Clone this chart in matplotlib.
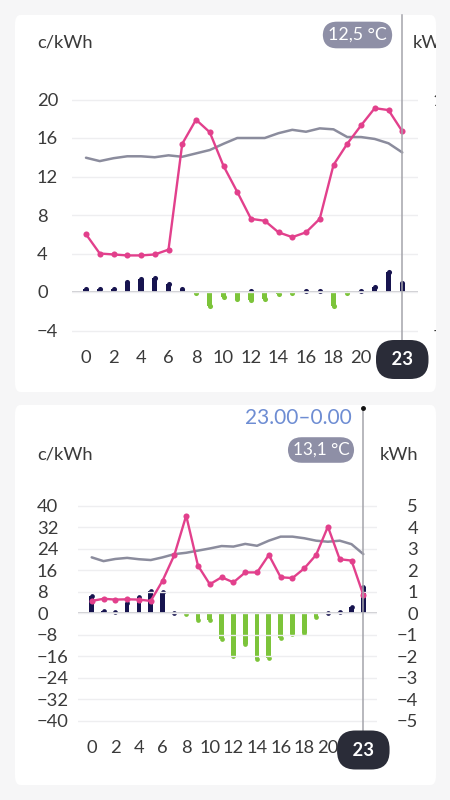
import matplotlib
matplotlib.use("Agg")
import matplotlib.pyplot as plt
from matplotlib.patches import FancyBboxPatch, Rectangle
import matplotlib.transforms as mtrans

plt.rcParams['font.family'] = ['Lato', 'DejaVu Sans']

# ---------------- data ----------------
hours = list(range(24))
xtick_hours = list(range(0, 21, 2))

# Top chart
price_top = [6.0, 4.0, 3.9, 3.8, 3.8, 3.9, 4.4, 15.4, 17.9, 16.6, 13.1, 10.4,
             7.6, 7.4, 6.2, 5.7, 6.2, 7.6, 13.2, 15.4, 17.3, 19.1, 18.9, 16.7]
temp_top = [13.95, 13.6, 13.9, 14.1, 14.1, 14.0, 14.2, 14.05, 14.4, 14.75, 15.4, 16.0,
            16.0, 16.0, 16.5, 16.85, 16.65, 17.0, 16.9, 16.1, 16.1, 15.9, 15.45, 14.5]
cons_top = [0.27, 0.27, 0.27, 0.65, 0.8, 0.85, 0.55, 0.27, 0, 0, 0, 0,
            0.05, 0, 0, 0, 0.07, 0.07, 0, 0, 0.2, 0.37, 1.15, 0.6]
prod_top = [0, 0, 0, 0, 0, 0, 0, 0, -0.1, -0.85, -0.37, -0.52,
            -0.57, -0.52, -0.25, -0.03, 0, 0, -0.87, -0.15, 0, 0, 0, 0]
left_ticks_top = [20, 16, 12, 8, 4, 0, -4]
right_ticks_top = [10, 8, 6, 4, 2, 0, -2]
temp_label_top = "12,5 °C"

# Bottom chart
price_bot = [4.6, 5.4, 5.1, 5.2, 5.1, 4.6, 12.1, 21.7, 36.3, 17.7, 10.8, 13.4,
             11.5, 15.2, 15.2, 21.7, 13.4, 13.1, 16.7, 21.7, 32.2, 20.1, 19.6, 6.8]
temp_bot = [20.8, 19.4, 20.2, 20.6, 20.1, 19.8, 20.8, 22.0, 22.5, 23.3, 24.1, 25.0,
            24.8, 25.8, 25.1, 27.0, 28.5, 28.5, 27.9, 27.0, 26.6, 27.0, 25.7, 22.0]
cons_bot = [0.93, 0.2, 0.15, 0.6, 0.88, 1.16, 1.08, 0.07, 0, 0, 0, 0,
            0, 0, 0, 0, 0, 0, 0, 0, 0.08, 0.19, 0.42, 1.35]
prod_bot = [0, 0, 0, 0, 0, 0, 0, 0, -0.02, -0.42, -0.44, -1.32,
            -2.09, -1.55, -2.25, -2.17, -1.27, -1.09, -1.01, -0.28, 0, 0, 0, 0]
left_ticks_bot = [40, 32, 24, 16, 8, 0, -8, -16, -24, -32, -40]
right_ticks_bot = [5, 4, 3, 2, 1, 0, -1, -2, -3, -4, -5]
temp_label_bot = "13,1 °C"
range_label_bot = "23.00–0.00"

# ---------------- style ----------------
W, H = 450, 800
BG = '#f6f6f7'
PINK = '#e2408c'
NAVY = '#17144f'
GREEN = '#7cc43a'
GREYLINE = '#8b8c9d'
BADGE = '#8e8fa6'
BUBBLE = '#2a2c38'
BLUE = '#6e8dd3'
TXT = '#3a3a3a'
FS = 13.2

fig = plt.figure(figsize=(W / 100, H / 100), dpi=100, facecolor=BG)


def fx(x):
    return x / W


def fy(y):
    return 1 - y / H


def card(x0, y0, x1, y1):
    p = FancyBboxPatch((fx(x0), fy(y1)), fx(x1) - fx(x0), fy(y0) - fy(y1),
                       boxstyle="round,pad=0,rounding_size=0.012",
                       transform=fig.transFigure, fc='white', ec='none', zorder=-5)
    fig.patches.append(p)


card(15, 15, 436, 392)
card(15, 405, 436, 785)


def rounded_bars(ax2, xs, vals, width, color, px_per_h, px_per_unit):
    d_px = width * px_per_h
    r = d_px / 2 / px_per_unit
    ms = d_px * 0.72
    bx, bh, cx, cy = [], [], [], []
    for h, v in zip(xs, vals):
        if v == 0:
            continue
        s = 1 if v > 0 else -1
        end = s * max(abs(v) - r, r * 0.3)
        if abs(v) > r:
            bx.append(h)
            bh.append(end)
        cx.append(h)
        cy.append(end)
    ax2.bar(bx, bh, width=width, color=color, zorder=2, linewidth=0)
    ax2.plot(cx, cy, 'o', ms=ms, color=color, mec='none', zorder=2)


def panel(rect_px, x0h, pxh, zero_px, pxu, kfac, price, temp, cons, prod, lticks, rticks,
          lx_px, rx_px, bar_w, line_top_px, bubble_y_px):
    x0, y0, x1, y1 = rect_px
    ax = fig.add_axes([fx(x0), fy(y1), fx(x1) - fx(x0), fy(y0) - fy(y1)])
    ax.set_xlim((x0 - x0h) / pxh, (x1 - x0h) / pxh)
    ylim = ((zero_px - y1) / pxu, (zero_px - y0) / pxu)
    ax.set_ylim(*ylim)
    ax.patch.set_alpha(0)
    for s in ax.spines.values():
        s.set_visible(False)
    ax.set_yticks(lticks)
    ax.set_yticklabels([f"{t}".replace('-', '\u2212') for t in lticks])
    ax.tick_params(axis='y', length=0, pad=(x0 - lx_px) * 0.72, labelsize=FS, labelcolor=TXT)
    for lab in ax.get_yticklabels():
        lab.set_ha('left')
    ax.set_xticks(xtick_hours)
    ax.tick_params(axis='x', length=0, pad=13 * 0.72, labelsize=FS, labelcolor=TXT)
    for lab in ax.get_xticklabels():
        lab.set_va('center')
    ax.grid(axis='y', color='#eeeef0', lw=1.0, zorder=0)
    ax.axhline(0, color='#c8c8ce', lw=1.3, zorder=1)

    # bars on twin (kWh) axis
    ax2 = ax.twinx()
    ax2.set_ylim(ylim[0] / kfac, ylim[1] / kfac)
    for s in ax2.spines.values():
        s.set_visible(False)
    ax2.set_yticks(rticks)
    ax2.set_yticklabels([f"{t}".replace('-', '\u2212') for t in rticks])
    ax2.tick_params(axis='y', length=0, pad=(rx_px - x1) * 0.72, labelsize=FS, labelcolor=TXT)
    for lab in ax2.get_yticklabels():
        lab.set_ha('right')
    rounded_bars(ax2, hours, cons, bar_w, NAVY, pxh, pxu * kfac)
    rounded_bars(ax2, hours, prod, bar_w, GREEN, pxh, pxu * kfac)
    ax2.set_zorder(1)
    ax.set_zorder(2)

    ax.plot(hours, temp, color=GREYLINE, lw=1.8, zorder=3, solid_capstyle='round',
            solid_joinstyle='round')
    ax.plot(hours, price, color=PINK, lw=1.7, marker='o', ms=4.4, mec='none', zorder=4)

    # cursor line at hour 23
    h_ax = y1 - y0
    ax.axvline(hours[-1], ymin=0, ymax=(y1 - line_top_px) / h_ax, color='#a4a4ab',
               lw=1.1, clip_on=False, zorder=5)
    tr = mtrans.blended_transform_factory(ax.transData, ax.transAxes)
    ax.text(hours[-1], (y1 - bubble_y_px) / h_ax, " 23 ", transform=tr, ha='center',
            va='center_baseline', color='white', fontsize=FS, fontweight='bold', zorder=10,
            clip_on=False,
            bbox=dict(boxstyle="round,pad=0.6,rounding_size=1.0", fc=BUBBLE, ec='none'))
    return ax, ax2


# top panel: hour0 at x=86, 13.75 px/h ; zero at y=292, 9.625 px/unit
ax_t, ax_t2 = panel((72, 80, 418, 345), 86.0, 13.75, 292.0, 9.625, 2.0,
                    price_top, temp_top, cons_top, prod_top, left_ticks_top, right_ticks_top,
                    37, 454, 0.37, 15, 358)

# bottom panel: hour0 at x=91.7, 11.81 px/h ; zero at y=613.3, 2.69 px/unit
ax_b, ax_b2 = panel((78, 495, 377, 735), 91.7, 11.81, 613.3, 2.69, 8.0,
                    price_bot, temp_bot, cons_bot, prod_bot, left_ticks_bot, right_ticks_bot,
                    37, 418, 0.4, 408, 748.5)

# small dot at top of the bottom cursor line
ax_b.plot([hours[-1]], [ax_b.get_ylim()[1] + (495 - 408) / 2.69], 'o', ms=2.5, color='#111111',
          clip_on=False, zorder=6)

# cover strip to clip the top chart at the card edge
fig.patches.append(Rectangle((fx(436), fy(392)), 1 - fx(436), fy(15) - fy(392),
                             transform=fig.transFigure, fc=BG, ec='none', zorder=20))

# header texts
fig.text(fx(37), fy(43), "c/kWh", ha='left', va='center', fontsize=FS, color=TXT)
fig.text(fx(413), fy(43), "kWh", ha='left', va='center', fontsize=FS, color=TXT, zorder=1)
fig.text(fx(357.5), fy(35), temp_label_top, ha='center', va='center', fontsize=12.8, color='white',
         bbox=dict(boxstyle="round,pad=0.3,rounding_size=0.8", fc=BADGE, ec='none'))

fig.text(fx(37), fy(455), "c/kWh", ha='left', va='center', fontsize=FS, color=TXT)
fig.text(fx(418), fy(455), "kWh", ha='right', va='center', fontsize=FS, color=TXT)
fig.text(fx(352), fy(418), range_label_bot, ha='right', va='center', fontsize=15, color=BLUE)
fig.text(fx(321), fy(450), temp_label_bot, ha='center', va='center', fontsize=12.3, color='white',
         bbox=dict(boxstyle="round,pad=0.28,rounding_size=0.8", fc=BADGE, ec='none'))

fig.savefig("out.png", dpi=100, facecolor=BG)
